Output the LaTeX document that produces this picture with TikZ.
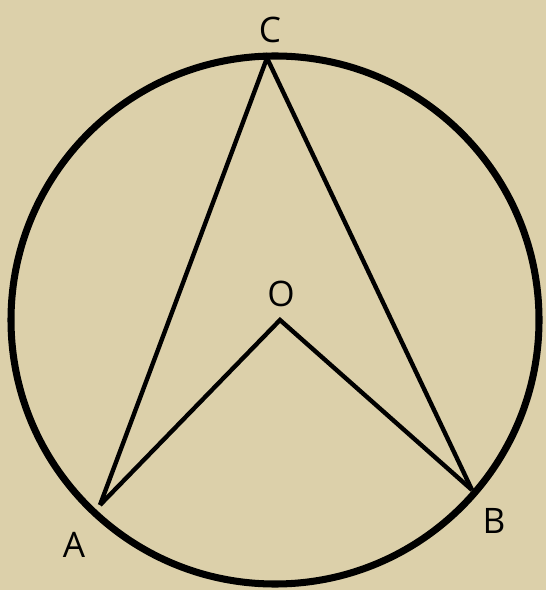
\documentclass[tikz,border=0pt]{standalone}
\usepackage{fontspec}
\setmainfont{Open Sans}
\usepackage{xcolor}
\usepackage{tikz}
\usetikzlibrary{positioning}

\definecolor{parchment}{RGB}{220,208,170}

\begin{document}
\begin{tikzpicture}[
  x=0.02cm, y=-0.02cm,
  rim/.style={draw=black, line width=4pt},
  chord/.style={draw=black, line width=2.5pt, line join=miter},
  pointlabel/.style={font=\fontsize{20}{22}\selectfont, text=black, inner sep=0pt}
]
% background
\fill[parchment] (0,0) rectangle (546,590);
\useasboundingbox (0,0) rectangle (546,590);

% points on the circle
\coordinate (O) at (280,320);
\coordinate (C) at (267,58);
\coordinate (A) at (100,505);
\coordinate (B) at (472,490);

\draw[rim] (275,320) circle (264);

\draw[chord] (A) -- (C) -- (B);
\draw[chord] (A) -- (O) -- (B);

% labels
\node[pointlabel] (lC) at (270,30) {C};
\node[pointlabel] (lO) at (281,294) {O};
\node[pointlabel] (lA) at (74,545) {A};
\node[pointlabel] (lB) at (494,521) {B};
\end{tikzpicture}
\end{document}
